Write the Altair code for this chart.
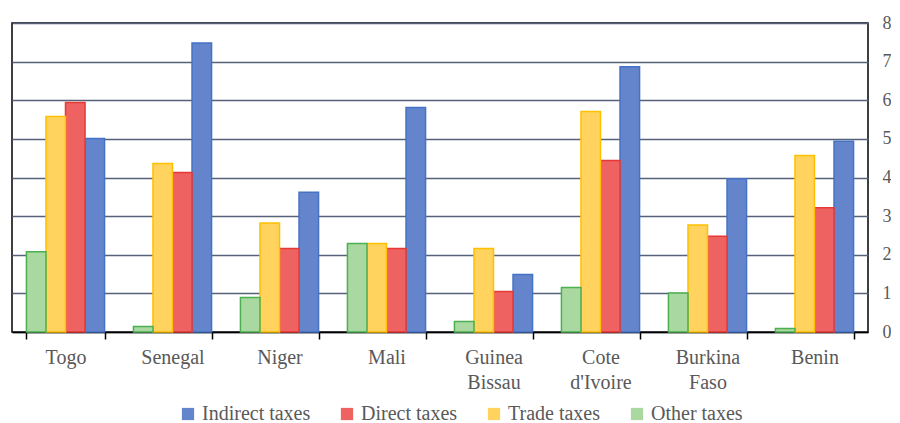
import altair as alt
import pandas as pd

countries = ["Togo", "Senegal", "Niger", "Mali", "Guinea Bissau",
             "Cote d'Ivoire", "Burkina Faso", "Benin"]
indirect = [5.01, 7.48, 3.62, 5.81, 1.49, 6.87, 3.97, 4.94]
direct = [5.94, 4.13, 2.16, 2.16, 1.05, 4.44, 2.48, 3.22]
trade = [5.58, 4.36, 2.82, 2.29, 2.16, 5.71, 2.77, 4.57]
other = [2.08, 0.14, 0.89, 2.29, 0.27, 1.15, 1.01, 0.09]

series_names = ["Indirect taxes", "Direct taxes", "Trade taxes", "Other taxes"]
bar_order = ["Other taxes", "Trade taxes", "Direct taxes", "Indirect taxes"]
fills = ["#6485cc", "#ee6262", "#ffd35e", "#a9d9a1"]
strokes = ["#4472c4", "#e53935", "#ffc000", "#4caf50"]

rows = []
for name, vals in zip(series_names, [indirect, direct, trade, other]):
    for c, v in zip(countries, vals):
        rows.append({"country": c, "series": name, "value": v})
df = pd.DataFrame(rows)

font = "Liberation Serif"
grey = "#595959"

chart = alt.Chart(df).mark_bar(strokeWidth=1.5).encode(
    x=alt.X("country:N", sort=countries, title=None,
            scale=alt.Scale(paddingInner=0.27, paddingOuter=0.135),
            axis=alt.Axis(labelAngle=0, tickBand="extent", tickSize=7,
                          tickColor="black", domainColor="black", domainWidth=1.5,
                          tickWidth=1.5, labelPadding=8, labelFontSize=20,
                          labelLineHeight=25, labelFont=font, labelColor=grey,
                          labelExpr="split(datum.label, ' ')", grid=False)),
    xOffset=alt.XOffset("series:N", sort=bar_order,
                        scale=alt.Scale(domain=bar_order, paddingInner=0, paddingOuter=0)),
    y=alt.Y("value:Q", title=None,
            scale=alt.Scale(domain=[0, 8], nice=False),
            axis=alt.Axis(orient="right", values=list(range(9)), ticks=False,
                          domain=False, labelPadding=14, labelFontSize=18,
                          labelFont=font, labelColor=grey, gridColor="#56627a",
                          gridWidth=1.6)),
    color=alt.Color("series:N", title=None,
                    scale=alt.Scale(domain=series_names, range=fills),
                    legend=alt.Legend(orient="none", direction="horizontal",
                                      legendX=166, legendY=381,
                                      symbolType="square", symbolSize=150,
                                      symbolStrokeWidth=0, labelFontSize=20,
                                      labelFont=font, labelColor=grey,
                                      labelOffset=4, columnPadding=26)),
    stroke=alt.Stroke("series:N",
                      scale=alt.Scale(domain=series_names, range=strokes),
                      legend=None),
).properties(
    width=856, height=309,
    padding={"left": 4, "top": 6, "right": 0, "bottom": 0},
).configure_view(stroke="black", strokeWidth=1.5)

chart.save("out.html", embed_options={"renderer": "svg", "actions": False})
